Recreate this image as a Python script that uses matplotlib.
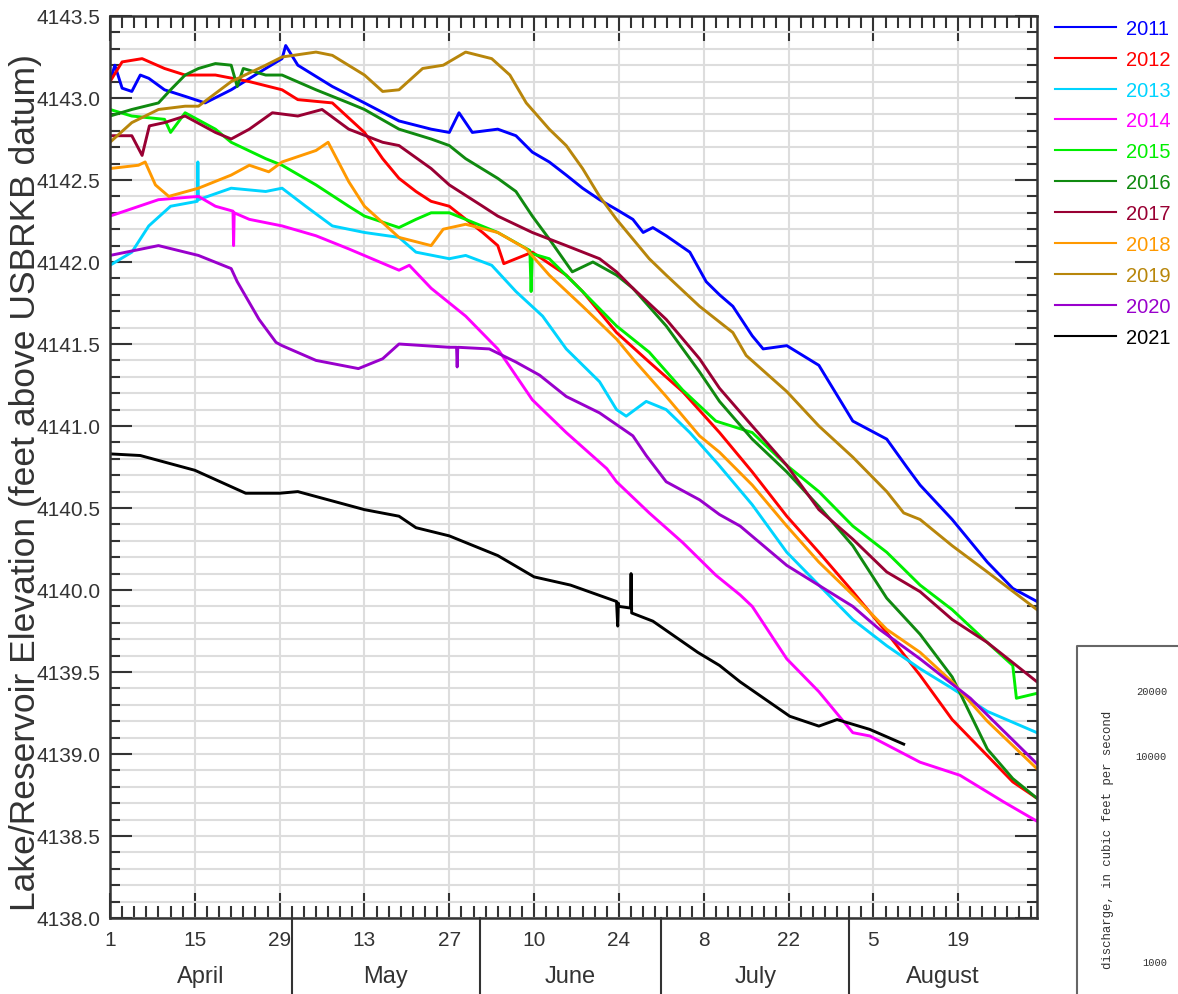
"""
Lake/reservoir elevation, April 1 - August 31, 2011-2021
"""

import matplotlib.pyplot as plt
from matplotlib.ticker import MultipleLocator
from matplotlib.lines import Line2D
from matplotlib.transforms import blended_transform_factory

plt.rcParams['font.family'] = ['Liberation Sans', 'DejaVu Sans']

# day 0 = April 1
years = ['2011', '2012', '2013', '2014', '2015', '2016',
         '2017', '2018', '2019', '2020', '2021']
colors = ['#0000ff', '#ff0000', '#00d4ff', '#ff00ff', '#00ee00', '#108a10',
          '#990033', '#ff9900', '#b8860b', '#9900cc', '#000000']

d2011 = [0, 0.8, 2, 3.6, 5, 6.4, 9, 12.4, 15.7, 20, 25.7, 28.4, 29, 31, 36.7, 42,
         47.7, 53, 56, 57.6, 59.8, 64, 67, 69.7, 72.5, 75.3, 78, 80.8, 83.6,
         86.3, 88, 89.6, 91.8, 95.7, 98.4, 100.6, 102.8, 106, 107.8, 111.7,
         117, 122.6, 128.2, 131.5, 133.7, 139, 144.8, 149, 153]
e2011 = [4143.10, 4143.20, 4143.06, 4143.04, 4143.14, 4143.12, 4143.05, 4143.01,
         4142.97, 4143.05, 4143.18, 4143.24, 4143.32, 4143.20, 4143.07, 4142.97,
         4142.86, 4142.81, 4142.79, 4142.91, 4142.79, 4142.81, 4142.77, 4142.67,
         4142.61, 4142.53, 4142.45, 4142.38, 4142.32, 4142.26, 4142.18, 4142.21,
         4142.16, 4142.06, 4141.88, 4141.80, 4141.73, 4141.55, 4141.47, 4141.49,
         4141.37, 4141.03, 4140.92, 4140.75, 4140.64, 4140.43, 4140.17, 4140.01,
         4139.93]

d2012 = [0, 2, 5.3, 9, 12.4, 17.4, 23, 28.4, 31, 36.7, 42, 45, 47.7, 50.5, 53,
         56, 61.5, 64, 65, 69.7, 75.3, 78, 83.6, 89, 94.5, 100.6, 106, 111.7,
         117, 122.6, 128.2, 133.7, 139, 144.8, 149, 153]
e2012 = [4143.10, 4143.22, 4143.24, 4143.18, 4143.14, 4143.14, 4143.10, 4143.05,
         4142.99, 4142.97, 4142.79, 4142.63, 4142.51, 4142.43, 4142.37, 4142.34,
         4142.18, 4142.10, 4141.99, 4142.06, 4141.92, 4141.82, 4141.57, 4141.39,
         4141.21, 4140.96, 4140.72, 4140.45, 4140.23, 4139.99, 4139.74, 4139.48,
         4139.21, 4138.99, 4138.83, 4138.73]

d2013 = [0, 3.6, 6.4, 10, 14.4, 14.5, 14.6, 20, 25.7, 28.4, 32.3, 36.7, 42, 47.7,
         50.5, 56, 58.7, 63, 67, 71.4, 75.3, 80.8, 83.6, 85.2, 88.5, 91.8, 95.7,
         100.3, 106, 111.7, 117, 122.6, 128.2, 133.7, 139, 144.8, 153]
e2013 = [4141.98, 4142.06, 4142.22, 4142.34, 4142.37, 4142.61, 4142.38, 4142.45,
         4142.43, 4142.45, 4142.34, 4142.22, 4142.18, 4142.15, 4142.06, 4142.02,
         4142.04, 4141.98, 4141.82, 4141.67, 4141.47, 4141.27, 4141.10, 4141.06,
         4141.15, 4141.10, 4140.96, 4140.77, 4140.52, 4140.23, 4140.03, 4139.82,
         4139.66, 4139.52, 4139.40, 4139.26, 4139.13]

d2014 = [0, 8, 14.6, 17.4, 20.3, 20.4, 20.5, 23, 28.4, 34, 39.4, 47.7, 49.4, 53,
         58.7, 64, 69.7, 75.3, 82, 83.6, 89, 94.5, 100, 104, 106, 111.7, 117,
         122.6, 125.4, 133.7, 140.3, 147.4, 153]
e2014 = [4142.28, 4142.38, 4142.40, 4142.34, 4142.31, 4142.10, 4142.30, 4142.26,
         4142.22, 4142.16, 4142.08, 4141.95, 4141.98, 4141.84, 4141.67, 4141.47,
         4141.16, 4140.96, 4140.74, 4140.66, 4140.47, 4140.29, 4140.09, 4139.97,
         4139.90, 4139.58, 4139.38, 4139.13, 4139.11, 4138.95, 4138.87, 4138.71,
         4138.59]

d2015 = [0, 3.6, 9, 10, 12.4, 17.4, 20, 25.7, 28.4, 34, 39.4, 42, 47.7, 50.5, 53,
         56, 58.7, 64, 69.3, 69.5, 69.7, 72.5, 78, 83.6, 89, 94.5, 100, 106,
         111.7, 117, 122.6, 128.2, 133.7, 139, 144.8, 149, 149.6, 153]
e2015 = [4142.93, 4142.89, 4142.87, 4142.79, 4142.91, 4142.81, 4142.73, 4142.63,
         4142.59, 4142.47, 4142.34, 4142.28, 4142.21, 4142.26, 4142.30, 4142.30,
         4142.26, 4142.18, 4142.07, 4141.82, 4142.05, 4142.02, 4141.82, 4141.61,
         4141.45, 4141.22, 4141.03, 4140.96, 4140.76, 4140.60, 4140.39, 4140.23,
         4140.03, 4139.88, 4139.68, 4139.54, 4139.34, 4139.37]

d2016 = [0, 3.6, 8, 10, 12.4, 14.6, 17.4, 20, 21, 22, 25.7, 28.4, 34, 39.4, 42,
         47.7, 53, 56, 58.7, 64, 67, 69.7, 72.5, 76.3, 79.7, 83.6, 86.3, 91.8,
         97.3, 100.6, 106, 111.7, 117, 122.6, 128.2, 133.7, 139, 144.8, 149, 153]
e2016 = [4142.89, 4142.93, 4142.97, 4143.05, 4143.14, 4143.18, 4143.21, 4143.20,
         4143.07, 4143.18, 4143.14, 4143.14, 4143.05, 4142.97, 4142.93, 4142.81,
         4142.75, 4142.71, 4142.63, 4142.51, 4142.43, 4142.28, 4142.14, 4141.94,
         4142.00, 4141.92, 4141.84, 4141.61, 4141.33, 4141.15, 4140.92, 4140.72,
         4140.51, 4140.27, 4139.95, 4139.73, 4139.47, 4139.03, 4138.85, 4138.73]

d2017 = [0, 3.6, 5.3, 6.5, 9, 12.4, 17.4, 20, 23, 26.8, 31, 35, 39.4, 45, 47.7,
         53, 56, 61.5, 64, 69.7, 75.3, 80.8, 83.6, 86.3, 91.8, 97.3, 100.6, 106,
         111.7, 117, 122.6, 128.2, 133.7, 139, 144.8, 153]
e2017 = [4142.77, 4142.77, 4142.65, 4142.83, 4142.85, 4142.89, 4142.79, 4142.75,
         4142.81, 4142.91, 4142.89, 4142.93, 4142.81, 4142.73, 4142.71, 4142.57,
         4142.47, 4142.34, 4142.28, 4142.18, 4142.10, 4142.02, 4141.94, 4141.84,
         4141.65, 4141.41, 4141.23, 4141.00, 4140.76, 4140.49, 4140.31, 4140.11,
         4139.99, 4139.82, 4139.68, 4139.44]

d2018 = [0, 4.7, 5.8, 7.5, 9.7, 14.6, 20, 23, 26.2, 28.4, 34, 36, 39.4, 42, 47.7,
         53, 55, 58.7, 64, 68.7, 72.5, 78, 83.6, 86.3, 91.8, 97.3, 100.6, 106,
         111.7, 117, 122.6, 128.2, 133.7, 139, 144.8, 153]
e2018 = [4142.57, 4142.59, 4142.61, 4142.47, 4142.40, 4142.45, 4142.53, 4142.59,
         4142.55, 4142.61, 4142.68, 4142.73, 4142.49, 4142.34, 4142.15, 4142.10,
         4142.20, 4142.23, 4142.18, 4142.08, 4141.92, 4141.73, 4141.53, 4141.41,
         4141.18, 4140.94, 4140.84, 4140.64, 4140.39, 4140.17, 4139.97, 4139.76,
         4139.62, 4139.44, 4139.20, 4138.91]

d2019 = [0, 3.6, 8, 12.4, 14.6, 20, 25.7, 28.4, 34, 36.7, 42, 45, 47.7, 51.6, 55,
         58.7, 63, 66, 68.7, 72.5, 75.3, 78, 80.8, 83.6, 86.3, 89, 91.8, 97.3,
         102.8, 105, 111.7, 117, 122.6, 128.2, 131, 133.7, 139, 144.8, 153]
e2019 = [4142.73, 4142.85, 4142.93, 4142.95, 4142.95, 4143.10, 4143.20, 4143.25,
         4143.28, 4143.26, 4143.14, 4143.04, 4143.05, 4143.18, 4143.20, 4143.28,
         4143.24, 4143.14, 4142.97, 4142.81, 4142.71, 4142.57, 4142.40, 4142.26,
         4142.14, 4142.02, 4141.92, 4141.73, 4141.57, 4141.43, 4141.21, 4141.00,
         4140.81, 4140.60, 4140.47, 4140.43, 4140.27, 4140.11, 4139.88]

d2020 = [0, 8, 14.6, 20, 21, 24.6, 27.4, 28.4, 34, 41, 45, 47.7, 56, 57.2, 57.3,
         57.4, 62.6, 67, 70.9, 75.3, 80.8, 86.3, 88.5, 91.8, 97.3, 100.6, 104,
         111.7, 122.6, 127, 133.7, 142, 153]
e2020 = [4142.04, 4142.10, 4142.04, 4141.96, 4141.88, 4141.65, 4141.51, 4141.49,
         4141.40, 4141.35, 4141.41, 4141.50, 4141.48, 4141.48, 4141.36, 4141.48,
         4141.47, 4141.39, 4141.31, 4141.18, 4141.08, 4140.94, 4140.82, 4140.66,
         4140.55, 4140.46, 4140.39, 4140.15, 4139.90, 4139.76, 4139.58, 4139.34,
         4138.94]

d2021 = [0, 5, 14, 22.4, 28, 31, 42, 47.7, 50.5, 56, 64, 70, 76, 83.6, 83.8, 83.9,
         84.0, 85.9, 86.0, 86.1, 89.6, 97, 100.6, 104, 112.2, 117, 120, 125.4,
         131]
e2021 = [4140.83, 4140.82, 4140.73, 4140.59, 4140.59, 4140.60, 4140.49, 4140.45,
         4140.38, 4140.33, 4140.21, 4140.08, 4140.03, 4139.93, 4139.78, 4139.92,
         4139.90, 4139.89, 4140.10, 4139.86, 4139.81, 4139.62, 4139.54, 4139.44,
         4139.23, 4139.17, 4139.21, 4139.15, 4139.06]

series_days = [d2011, d2012, d2013, d2014, d2015, d2016,
               d2017, d2018, d2019, d2020, d2021]
series_elev = [e2011, e2012, e2013, e2014, e2015, e2016,
               e2017, e2018, e2019, e2020, e2021]

major_days = [0, 14, 28, 42, 56, 70, 84, 98, 112, 126, 140]
day_labels = ['1', '15', '29', '13', '27', '10', '24', '8', '22', '5', '19']
month_names = ['April', 'May', 'June', 'July', 'August']
month_starts = [0, 30, 61, 91, 122, 153]

W, H = 1178, 995
fig = plt.figure(figsize=(W / 100, H / 100), dpi=100)
ax = fig.add_axes([110 / W, 1 - 919 / H, (1037 - 110) / W, (919 - 17) / H])

for d, e, yr, c in zip(series_days, series_elev, years, colors):
    ax.plot(d, e, color=c, lw=2.1, label=yr)

ax.set_xlim(0, 153)
ax.set_ylim(4138.0, 4143.5)

ax.set_xticks(major_days)
ax.set_xticklabels(day_labels)
ax.xaxis.set_minor_locator(MultipleLocator(2))
ax.yaxis.set_major_locator(MultipleLocator(0.5))
ax.yaxis.set_minor_locator(MultipleLocator(0.1))
ax.yaxis.set_major_formatter(plt.FormatStrFormatter('%.1f'))

ax.tick_params(which='both', direction='in', top=True, right=True,
               color='#333333', width=1.5, labelcolor='#333333', labelsize=15)
ax.tick_params(axis='x', which='major', length=18, pad=9)
ax.tick_params(axis='x', which='minor', length=8.5)
ax.tick_params(axis='y', which='major', length=16, pad=7)
ax.tick_params(axis='y', which='minor', length=7)

ax.grid(True, axis='y', which='both', color='#dddddd', lw=1.5)
ax.grid(True, axis='x', which='major', color='#dddddd', lw=1.5)
ax.set_axisbelow(True)
for sp in ax.spines.values():
    sp.set_color('#333333')
    sp.set_linewidth(1.8)

ax.set_ylabel('Lake/Reservoir Elevation (feet above USBRKB datum)',
              fontsize=25.5, color='#333333')
ax.yaxis.set_label_coords(-0.073, 0.484)

# month separators and month names under the axis
trans = blended_transform_factory(ax.transData, ax.transAxes)
for m in month_starts[1:-1]:
    ax.plot([m, m], [0, -0.09], transform=trans, color='#333333', lw=1.5,
            clip_on=False)
for i, name in enumerate(month_names):
    mid = (month_starts[i] + month_starts[i + 1]) / 2
    ax.text(mid, -0.064, name, transform=trans, ha='center', va='center',
            fontsize=17, color='#333333')

leg = ax.legend(loc='upper left', bbox_to_anchor=(1.0, 1.017), frameon=False,
                fontsize=14.5, labelcolor='linecolor', handlelength=3.0,
                handletextpad=0.5, labelspacing=0.59)
for h in leg.legend_handles:
    h.set_linewidth(1.5)

# partial discharge panel in the lower right corner
x0 = 1077 / W
y1 = 1 - 647 / H
fig.add_artist(Line2D([x0, x0, 1.0], [0, y1, y1], transform=fig.transFigure,
                      color='#666666', lw=1.5))
fig.text(1108 / W, 1 - 840 / H, 'discharge, in cubic feet per second',
         rotation=90, family='Liberation Mono', fontsize=8.9,
         ha='center', va='center', color='#333333')
for lab, yp in [('20000', 692), ('10000', 757), ('1000', 963)]:
    fig.text(1167 / W, 1 - yp / H, lab, family='Liberation Mono', fontsize=7.5,
             ha='right', va='center', color='#333333')

fig.savefig('out.png', dpi=100)
